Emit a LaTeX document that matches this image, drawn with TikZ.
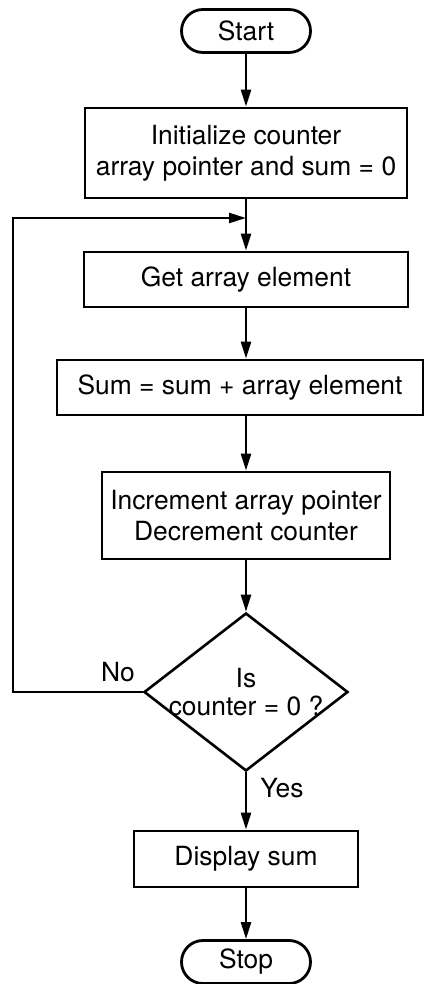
\documentclass[tikz,border=0pt]{standalone}
\usepackage{fontspec}
\setmainfont{TeX Gyre Heros}
\usetikzlibrary{arrows.meta,shapes.geometric}

\begin{document}
\begin{tikzpicture}[x=0.5pt,y=-0.5pt,>={Triangle[length=8.5pt,width=5pt]},
    every node/.style={font=\fontsize{13.2}{15.5}\selectfont,align=center},
    procbox/.style={draw,line width=1.4pt,inner sep=0pt},
    termbox/.style={draw,line width=1.4pt,rounded corners=10.7pt,minimum width=64.5pt,minimum height=21.5pt,inner sep=0pt},
    decbox/.style={draw,diamond,line width=1.3pt,inner sep=-8pt,minimum width=102pt,minimum height=79pt,font=\fontsize{13.2}{14}\selectfont},
    flow/.style={->,line width=1.2pt}]
    \useasboundingbox (0,0) rectangle (425,984);

    % Terminals and steps
    \node[termbox] (start) at (246,31) {Start};
    \node[procbox,minimum width=161pt,minimum height=45pt] (init) at (246,153) {Initialize counter\\array pointer and sum = 0};
    \node[procbox,minimum width=162pt,minimum height=27.5pt] (get) at (246,279.5) {Get array element};
    \node[procbox,minimum width=183pt,minimum height=27.5pt] (sum) at (240,387.5) {Sum = sum + array element};
    \node[procbox,minimum width=144pt,minimum height=43.5pt] (inc) at (246,515.5) {Increment array pointer\\Decrement counter};
    \node[decbox] (test) at (246,692) {Is\\counter = 0 ?};
    \node[procbox,minimum width=112pt,minimum height=28pt] (disp) at (246,859) {Display sum};
    \node[termbox] (stop) at (246,962) {Stop};

    % Branch labels
    \node (no) at (118,672) {No};
    \node (yes) at (282,788) {Yes};

    % Main flow
    \draw[flow] (start) -- (init);
    \draw[flow] (init) -- (get);
    \draw[flow] (get.south) -- (get.south |- sum.north);
    \draw[flow] (sum.south -| inc.north) -- (inc);
    \draw[flow] (inc) -- (test);
    \draw[flow] (test) -- (disp);
    \draw[flow] (disp) -- (stop);

    % Loop back
    \coordinate (back) at (13,218);
    \coordinate (join) at (246,218);
    \draw[flow] (test.west) -| (back) -- (join);
\end{tikzpicture}
\end{document}
